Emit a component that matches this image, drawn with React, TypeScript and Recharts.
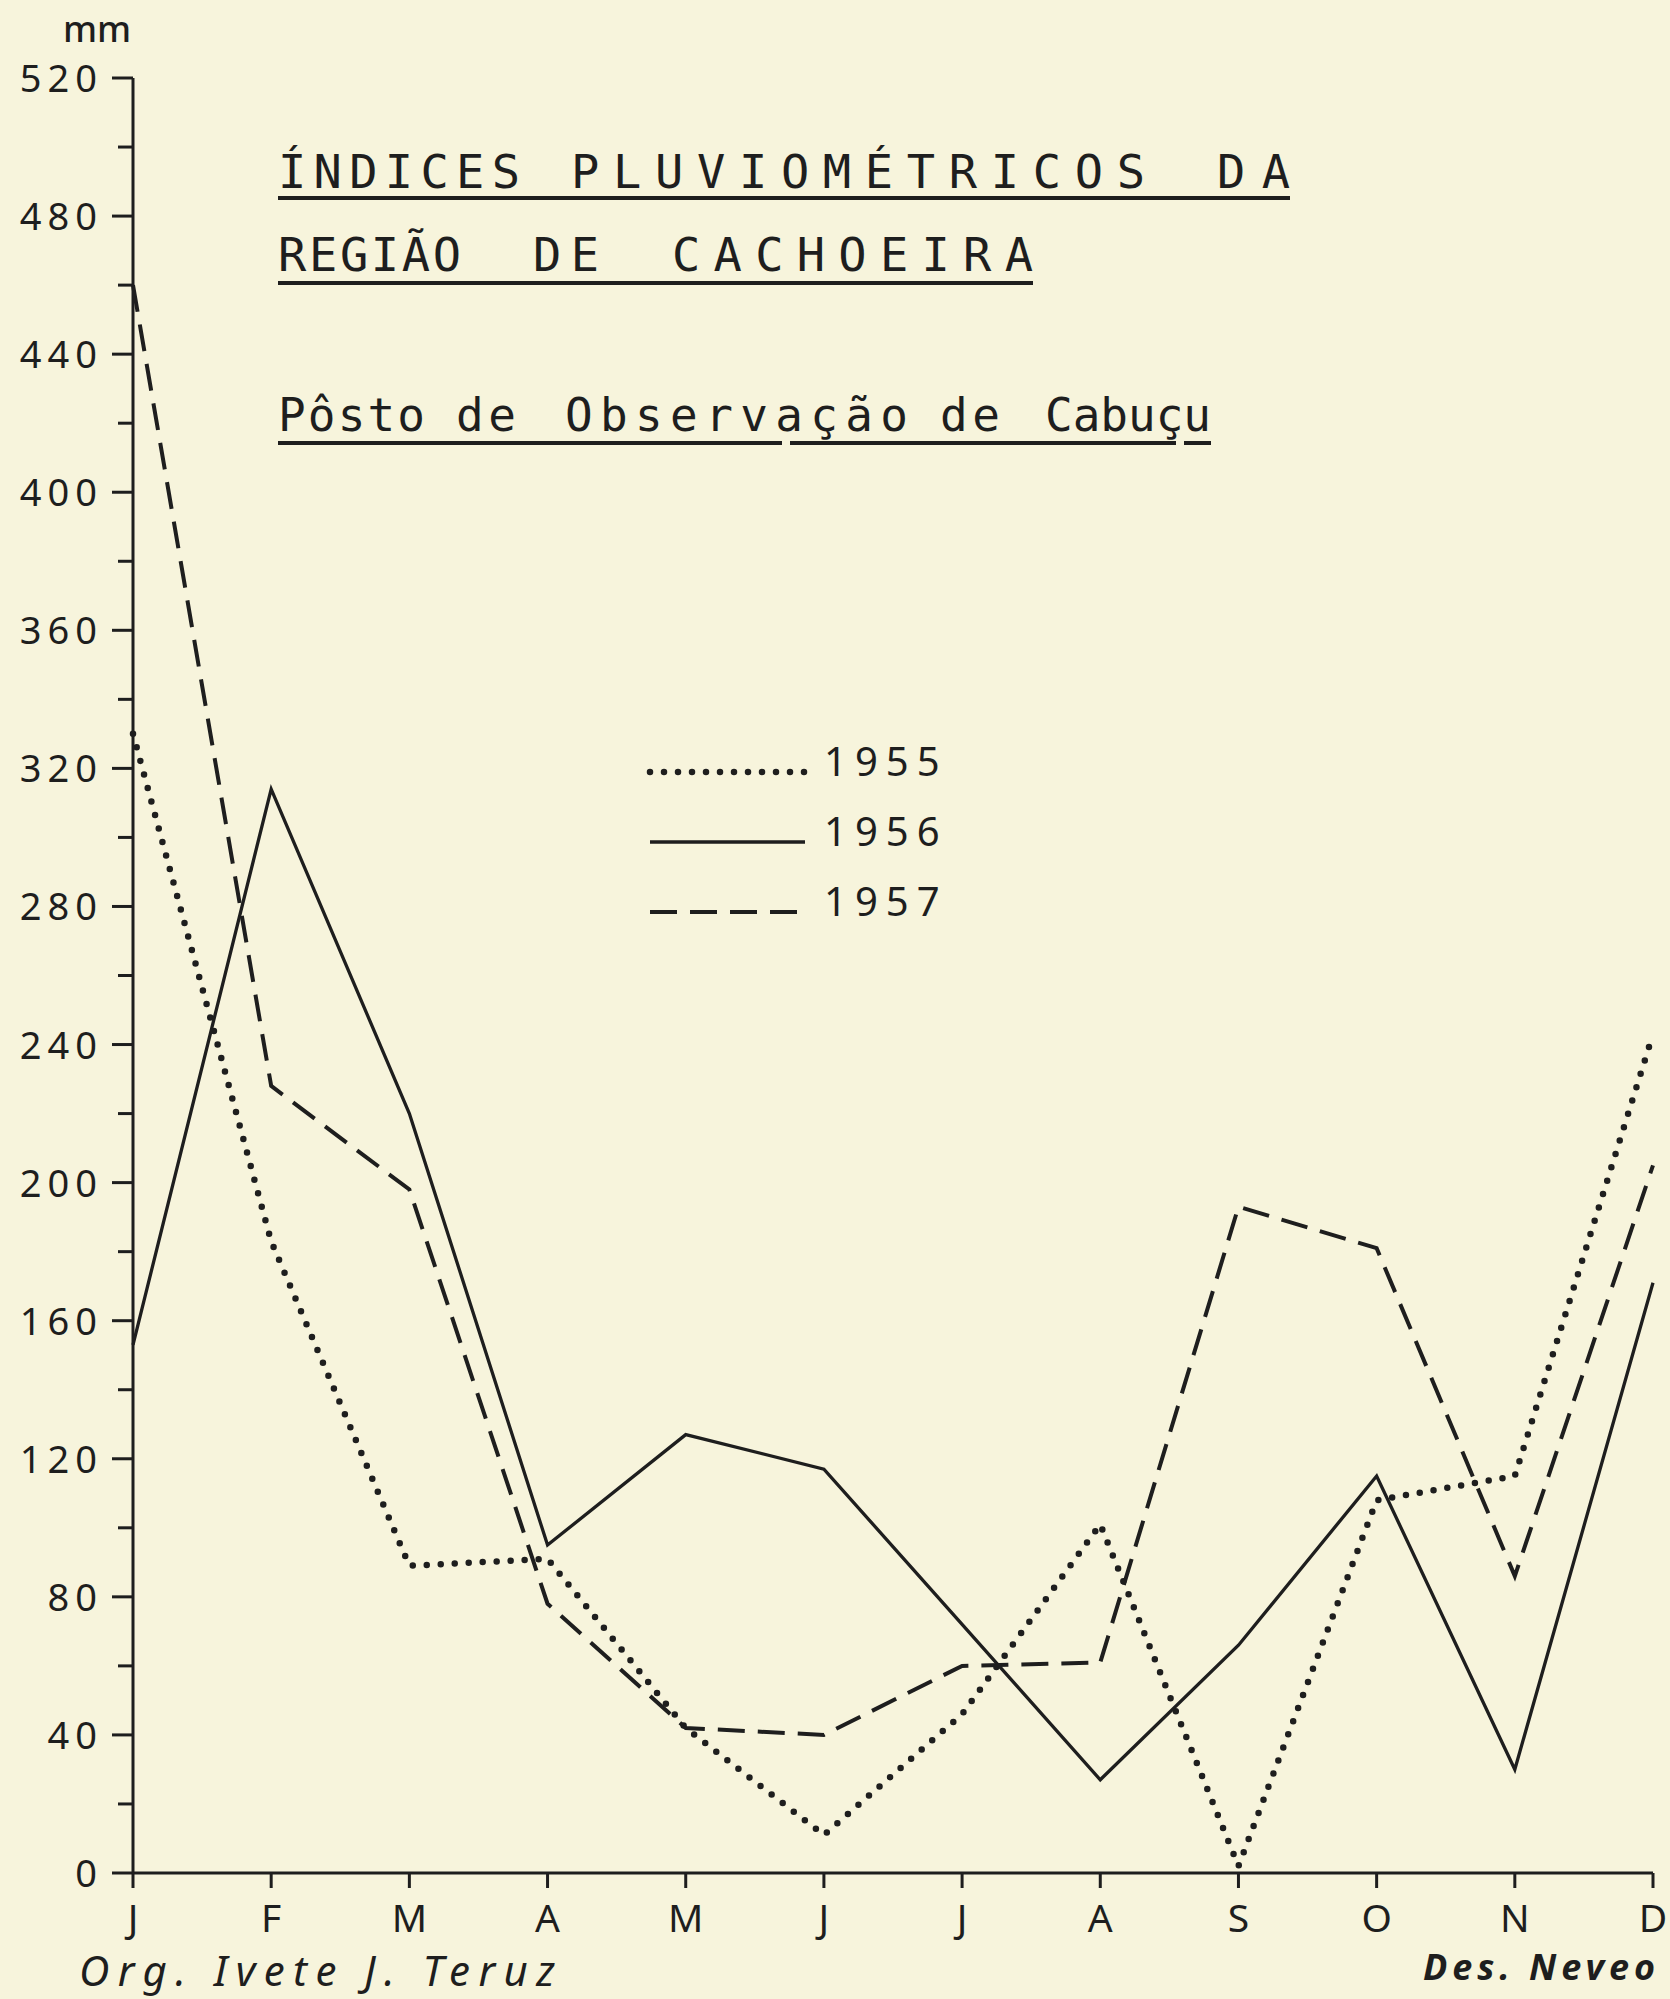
import { LineChart, Line, XAxis, YAxis } from 'recharts';

// months and their axis letters
const months = ['Jan', 'Fev', 'Mar', 'Abr', 'Mai', 'Jun', 'Jul', 'Ago', 'Set', 'Out', 'Nov', 'Dez'];
const monthLetters = ['J', 'F', 'M', 'A', 'M', 'J', 'J', 'A', 'S', 'O', 'N', 'D'];

// rainfall in mm
const rain1955 = [330, 183, 89, 91, 42, 11, 46, 101, 2, 108, 115, 243];
const rain1956 = [153, 314, 220, 95, 127, 117, 72, 27, 66, 115, 30, 171];
const rain1957 = [460, 228, 198, 78, 42, 40, 60, 61, 193, 181, 86, 205];

const yTicks = [0, 20, 40, 60, 80, 100, 120, 140, 160, 180, 200, 220, 240, 260, 280, 300, 320, 340, 360, 380, 400, 420, 440, 460, 480, 500, 520];

const W = 1670;
const H = 1999;
const INK = '#1e1e1e';
const PAPER = '#f7f4dc';
const FONT = '"Noto Sans", "DejaVu Sans", sans-serif';
// stencil lettering of the title is close to a monospaced sans
const TITLE_FONT = '"DejaVu Sans Mono", "Liberation Mono", monospace';

const chartData = months.map((m, i) => ({
    month: m,
    y1955: rain1955[i],
    y1956: rain1956[i],
    y1957: rain1957[i],
}));

const dotted = { strokeWidth: 6.5, strokeDasharray: '0 14', strokeLinecap: 'round' as const };
const solid = { strokeWidth: 3.3 };
const dashed = { strokeWidth: 4, strokeDasharray: '27 13' };

function YTick(props: any) {
    const { x, y, payload } = props;
    const major = payload.value % 40 === 0;
    return (
        <g>
            <line x1={x - (major ? 21 : 15)} y1={y} x2={x} y2={y} stroke={INK} strokeWidth={3} />
            {major && (
                <text x={x - 30} y={y + 14} textAnchor="end" fontSize={38} fontFamily={FONT} fill={INK} letterSpacing={6}>
                    {payload.value}
                </text>
            )}
        </g>
    );
}

function XTick(props: any) {
    const { x, y, payload, index } = props;
    const label = monthLetters[index ?? months.indexOf(payload.value)];
    return (
        <g>
            <line x1={x} y1={y} x2={x} y2={y + 15} stroke={INK} strokeWidth={3} />
            <text x={x} y={y + 59} textAnchor="middle" fontSize={39} fontFamily={FONT} fill={INK}>
                {label}
            </text>
        </g>
    );
}

// title words: [text, x, width] for each line
const titleLine1: [string, number, number][] = [['ÍNDICES', 278, 242], ['PLUVIOMÉTRICOS', 571, 574], ['DA', 1217, 73]];
const titleLine2: [string, number, number][] = [['REGIÃO', 278, 183], ['DE', 533, 66], ['CACHOEIRA', 672, 361]];
const titleLine3: [string, number, number][] = [['Pôsto', 278, 147], ['de', 456, 60], ['Observação', 565, 343], ['de', 940, 60], ['Cabuçu', 1045, 166]];

function Words({ words, y, size }: { words: [string, number, number][]; y: number; size: number }) {
    return (
        <>
            {words.map(([w, x, len], i) => (
                <text key={i} x={x} y={y} fontSize={size} fontFamily={TITLE_FONT} fill={INK} textLength={len} lengthAdjust="spacing">
                    {w}
                </text>
            ))}
        </>
    );
}

function Annotations() {
    return (
        <svg width={W} height={H} style={{ position: 'absolute', left: 0, top: 0, pointerEvents: 'none' }}>
            <text x={97} y={42} textAnchor="middle" fontSize={36} fontFamily={FONT} fontWeight={500} fill={INK}>mm</text>

            <Words words={titleLine1} y={188} size={47} />
            <line x1={278} y1={198} x2={1290} y2={198} stroke={INK} strokeWidth={4} />
            <Words words={titleLine2} y={271} size={47} />
            <line x1={278} y1={283} x2={1033} y2={283} stroke={INK} strokeWidth={4} />
            <Words words={titleLine3} y={431} size={46} />
            <line x1={278} y1={443} x2={782} y2={443} stroke={INK} strokeWidth={4} />
            <line x1={790} y1={443} x2={1176} y2={443} stroke={INK} strokeWidth={4} />
            <line x1={1184} y1={443} x2={1211} y2={443} stroke={INK} strokeWidth={4} />

            <line x1={650} y1={772} x2={805} y2={772} stroke={INK} {...dotted} />
            <text x={824} y={776} fontSize={40} fontFamily={FONT} fill={INK} letterSpacing={8}>1955</text>
            <line x1={650} y1={842} x2={805} y2={842} stroke={INK} {...solid} />
            <text x={824} y={846} fontSize={40} fontFamily={FONT} fill={INK} letterSpacing={8}>1956</text>
            <line x1={650} y1={912} x2={805} y2={912} stroke={INK} {...dashed} />
            <text x={824} y={916} fontSize={40} fontFamily={FONT} fill={INK} letterSpacing={8}>1957</text>

            <text x={79} y={1986} fontSize={42} fontFamily={FONT} fontStyle="italic" fill={INK} textLength={476} lengthAdjust="spacing">
                Org. Ivete J. Teruz
            </text>
            <text x={1423} y={1980} fontSize={36} fontFamily={FONT} fontStyle="italic" fontWeight={700} fill={INK} textLength={232} lengthAdjust="spacing">
                Des. Neveo
            </text>
        </svg>
    );
}

export default function App() {
    return (
        <div style={{ position: 'absolute', left: 0, top: 0, width: W, height: H, background: PAPER }}>
            <LineChart width={W} height={H} data={chartData} margin={{ top: 78, right: 17, bottom: 66, left: 73 }}>
                <XAxis
                    dataKey="month"
                    height={60}
                    interval={0}
                    tickSize={0}
                    tickMargin={0}
                    tickLine={false}
                    axisLine={{ stroke: INK, strokeWidth: 3 }}
                    tick={<XTick />}
                />
                <YAxis
                    width={60}
                    domain={[0, 520]}
                    ticks={yTicks}
                    interval={0}
                    tickSize={0}
                    tickMargin={0}
                    tickLine={false}
                    axisLine={{ stroke: INK, strokeWidth: 3 }}
                    tick={<YTick />}
                />
                <Line type="linear" dataKey="y1955" stroke={INK} {...dotted} dot={false} isAnimationActive={false} />
                <Line type="linear" dataKey="y1956" stroke={INK} {...solid} dot={false} isAnimationActive={false} />
                <Line type="linear" dataKey="y1957" stroke={INK} {...dashed} dot={false} isAnimationActive={false} />
            </LineChart>
            <Annotations />
        </div>
    );
}
